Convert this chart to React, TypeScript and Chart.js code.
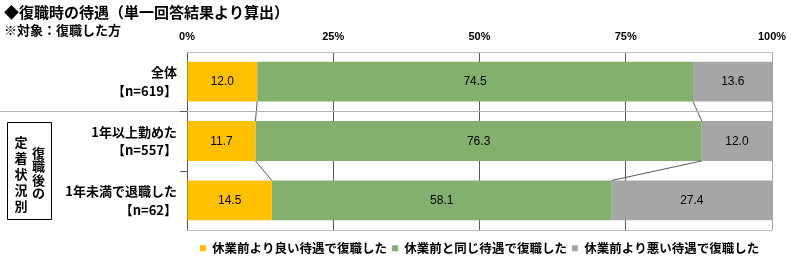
import React, { useEffect, useRef } from "react";
import { Chart, registerables } from "chart.js";

Chart.register(...registerables);

const title = "◆復職時の待遇（単一回答結果より算出）";
const subtitle = "※対象：復職した方";
const categories = [
  ["全体", "【n=619】"],
  ["1年以上勤めた", "【n=557】"],
  ["1年未満で退職した", "【n=62】"],
];
const groupLabelRight = "復職後の";
const groupLabelLeft = "定着状況別";
const seriesNames = [
  "休業前より良い待遇で復職した",
  "休業前と同じ待遇で復職した",
  "休業前より悪い待遇で復職した",
];
const better = [12.0, 11.7, 14.5];
const same = [74.5, 76.3, 58.1];
const worse = [13.6, 12.0, 27.4];
const xTicks = [0, 25, 50, 75, 100];
const colors = ["#FFC000", "#83B06D", "#A6A6A6"];

const JP = "'Noto Sans CJK JP', sans-serif";
const LAT = "'Liberation Sans', Arial, sans-serif";

const overlay = {
  id: "overlay",
  afterDatasetsDraw(chart: any) {
    const { ctx } = chart;
    const xs = chart.scales.x;
    ctx.save();
    // data labels
    ctx.font = `normal 12px ${LAT}`;
    ctx.fillStyle = "#000";
    ctx.textAlign = "center";
    ctx.textBaseline = "middle";
    chart.data.datasets.forEach((ds: any, di: number) => {
      const meta = chart.getDatasetMeta(di);
      meta.data.forEach((bar: any, i: number) => {
        const p = bar.getProps(["x", "base", "y"], true);
        ctx.fillText(Number(ds.data[i]).toFixed(1), (p.x + p.base) / 2, p.y + 0.5);
      });
    });
    // connector lines between stacked segments
    ctx.strokeStyle = "#595959";
    ctx.lineWidth = 1;
    const n = chart.data.labels.length;
    const nds = chart.data.datasets.length;
    for (let i = 0; i < n - 1; i++) {
      let c1 = 0;
      let c2 = 0;
      for (let d = 0; d < nds - 1; d++) {
        c1 += chart.data.datasets[d].data[i];
        c2 += chart.data.datasets[d].data[i + 1];
        const b1 = chart.getDatasetMeta(d).data[i];
        const b2 = chart.getDatasetMeta(d).data[i + 1];
        const y1 = b1.y + b1.height / 2;
        const y2 = b2.y - b2.height / 2;
        ctx.beginPath();
        ctx.moveTo(xs.getPixelForValue(c1), y1);
        ctx.lineTo(xs.getPixelForValue(c2), y2);
        ctx.stroke();
      }
    }
    ctx.restore();
  },
  afterDraw(chart: any) {
    const { ctx, chartArea } = chart;
    const ys = chart.scales.y;
    ctx.save();
    // bottom border
    ctx.strokeStyle = "#bfbfbf";
    ctx.lineWidth = 1;
    ctx.beginPath();
    ctx.moveTo(chartArea.left, Math.round(chartArea.bottom) + 0.5);
    ctx.lineTo(chartArea.right, Math.round(chartArea.bottom) + 0.5);
    ctx.stroke();
    // separator between overall and groups
    const sep = Math.round((ys.getPixelForValue(0) + ys.getPixelForValue(1)) / 2) + 0.5;
    ctx.strokeStyle = "#b4b4b4";
    ctx.beginPath();
    ctx.moveTo(0, sep);
    ctx.lineTo(chartArea.right, sep);
    ctx.stroke();
    // category boundary ticks
    ctx.strokeStyle = "#595959";
    const n = chart.data.labels.length;
    for (let i = 0; i < n - 1; i++) {
      const yb = Math.round((ys.getPixelForValue(i) + ys.getPixelForValue(i + 1)) / 2) + 0.5;
      ctx.beginPath();
      ctx.moveTo(chartArea.left - 7, yb);
      ctx.lineTo(chartArea.left, yb);
      ctx.stroke();
    }
    // title & subtitle
    ctx.fillStyle = "#000";
    ctx.textAlign = "left";
    ctx.textBaseline = "middle";
    ctx.font = `bold 15px ${JP}`;
    ctx.fillText(title, 4, 12);
    ctx.font = `bold 13px ${JP}`;
    ctx.fillText(subtitle, 4, 30);
    // group box
    ctx.strokeStyle = "#000";
    ctx.beginPath();
    ctx.rect(7.5, 122.5, 44, 97);
    ctx.stroke();
    ctx.font = `bold 13px ${JP}`;
    ctx.textAlign = "center";
    const rc = Array.from(groupLabelRight);
    rc.forEach((ch, k) => ctx.fillText(ch, 38.5, 153 + k * 13.5));
    const lc = Array.from(groupLabelLeft);
    lc.forEach((ch, k) => ctx.fillText(ch, 21, 142 + k * 16));
    ctx.restore();
  },
};

export default function App() {
  const ref = useRef<HTMLCanvasElement | null>(null);
  useEffect(() => {
    document.body.style.margin = "0";
    if (!ref.current) return;
    const chart = new Chart(ref.current, {
      type: "bar",
      data: {
        labels: categories,
        datasets: [better, same, worse].map((d, i) => ({
          label: seriesNames[i],
          data: d,
          backgroundColor: colors[i],
          borderWidth: 0,
          barPercentage: 0.67,
          categoryPercentage: 1,
        })),
      },
      options: {
        indexAxis: "y",
        responsive: false,
        maintainAspectRatio: false,
        devicePixelRatio: 1,
        animation: false,
        layout: { padding: { top: 30, left: 0, right: 28, bottom: 1.5 } },
        scales: {
          x: {
            position: "top",
            stacked: true,
            min: 0,
            max: 100,
            afterBuildTicks: (s: any) => {
              s.ticks = xTicks.map((v) => ({ value: v }));
            },
            afterFit: (s: any) => {
              s.height = 22;
            },
            ticks: {
              callback: (v: any) => v + "%",
              color: "#000",
              font: { family: LAT, size: 11, weight: "bold" },
              padding: 8,
              maxRotation: 0,
            },
            grid: {
              drawTicks: false,
              color: (c: any) => (c.index === 4 ? "#a6a6a6" : "#595959"),
            },
            border: { display: true, color: "#bfbfbf" },
          },
          y: {
            stacked: true,
            afterFit: (s: any) => {
              s.width = 187;
            },
            ticks: {
              color: "#000",
              font: { family: JP, size: 13, weight: "bold", lineHeight: 1.42 },
              padding: 10,
            },
            grid: { display: false, drawTicks: false },
            border: { display: false },
          },
        },
        plugins: {
          tooltip: { enabled: false },
          legend: {
            position: "bottom",
            fullSize: false,
            title: {
              display: true,
              text: "",
              padding: 0,
              font: { size: 7, lineHeight: 1 },
            },
            labels: {
              boxWidth: 6,
              boxHeight: 6,
              padding: 5,
              color: "#000",
              font: { family: JP, size: 12.5, weight: "bold" },
            },
          },
        },
      } as any,
      plugins: [overlay],
    });
    return () => chart.destroy();
  }, []);
  return (
    <div style={{ width: 800, height: 266, background: "#fff" }}>
      <canvas ref={ref} width={800} height={266} style={{ display: "block" }} />
    </div>
  );
}
